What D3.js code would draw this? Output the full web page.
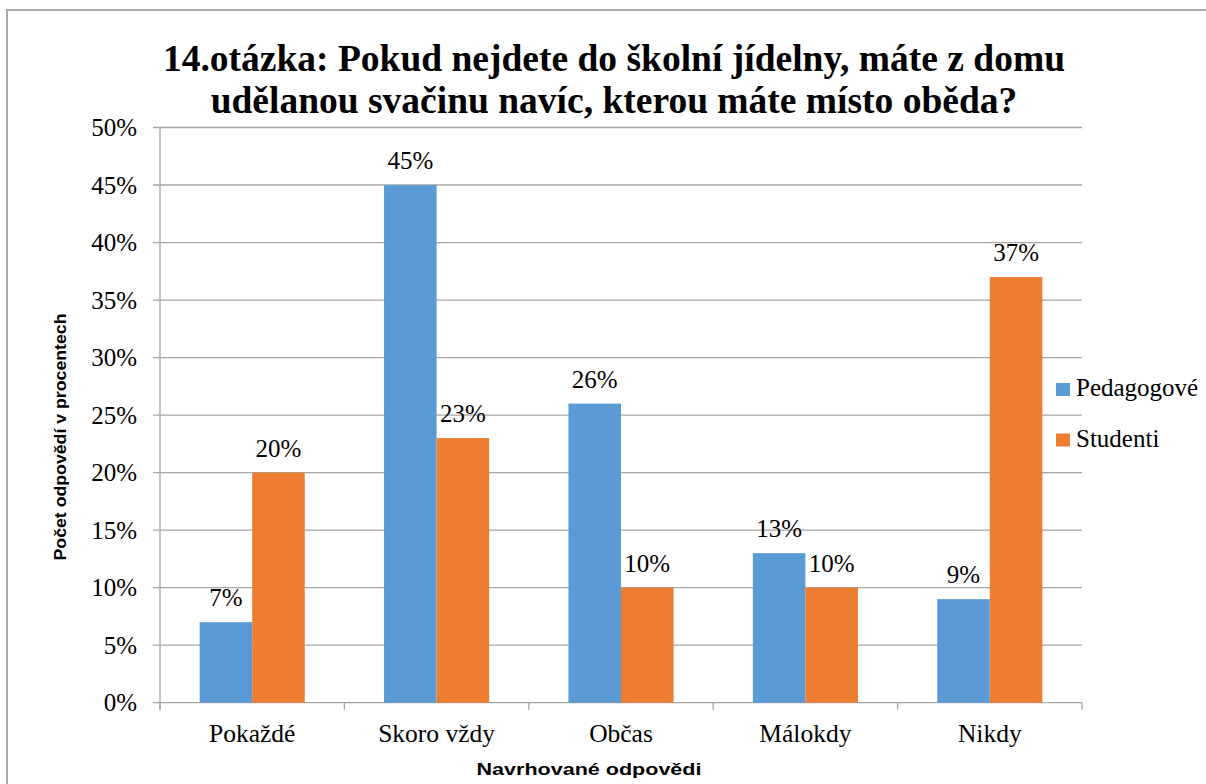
<!DOCTYPE html>
<html>
<head>
<meta charset="utf-8">
<script src="https://cdn.jsdelivr.net/npm/d3@7"></script>
<style>
  body { margin: 0; background: #fff; }
  svg { display: block; }
</style>
</head>
<body>
<div id="chart"></div>
<script>
const categories = ["Pokaždé", "Skoro vždy", "Občas", "Málokdy", "Nikdy"];
const seriesNames = ["Pedagogové", "Studenti"];
const pedagogove = [7, 45, 26, 13, 9];
const studenti = [20, 23, 10, 10, 37];
const yTicks = [0, 5, 10, 15, 20, 25, 30, 35, 40, 45, 50];
const colors = ["#5b9bd5", "#ed7d31"];
const titleLines = [
    "14.otázka: Pokud nejdete do školní jídelny, máte z domu",
    "udělanou svačinu navíc, kterou máte místo oběda?"
];

let width = 1206,
    height = 784,
    margin = {top: 127.5, right: 124, bottom: 81.3, left: 160};

const serif = "'Liberation Serif', 'Times New Roman', serif";

const svg = d3.select("#chart").append("svg")
    .attr("width", width)
    .attr("height", height);

// outer frame (top + left edge)
svg.append("path")
    .attr("d", "M7,784 L7,10 L1206,10")
    .attr("fill", "none")
    .attr("stroke", "#aaaaaa")
    .attr("stroke-width", 2);

let x0 = d3.scaleBand()
    .domain(categories)
    .range([margin.left, width - margin.right])
    .paddingInner(0.43)
    .paddingOuter(0.215);

let x1 = d3.scaleBand()
    .domain(seriesNames)
    .range([0, x0.bandwidth()]);

let y = d3.scaleLinear()
    .domain([0, 50])
    .range([height - margin.bottom, margin.top]);

const step = x0.step();

// gridlines
svg.append("g")
    .selectAll("line")
    .data(yTicks)
    .enter().append("line")
    .attr("x1", margin.left - 7)
    .attr("x2", width - margin.right)
    .attr("y1", d => y(d))
    .attr("y2", d => y(d))
    .attr("stroke", "#a6a6a6")
    .attr("stroke-width", 1.3);

// y axis line
svg.append("line")
    .attr("x1", margin.left).attr("x2", margin.left)
    .attr("y1", y(50)).attr("y2", y(0) + 7)
    .attr("stroke", "#a6a6a6")
    .attr("stroke-width", 1.3);

// category ticks on the x axis
svg.append("g")
    .selectAll("line")
    .data(d3.range(categories.length + 1))
    .enter().append("line")
    .attr("x1", i => margin.left + i * step)
    .attr("x2", i => margin.left + i * step)
    .attr("y1", y(0))
    .attr("y2", y(0) + 7)
    .attr("stroke", "#a6a6a6")
    .attr("stroke-width", 1.3);

// y tick labels
svg.append("g")
    .selectAll("text")
    .data(yTicks)
    .enter().append("text")
    .attr("x", 137)
    .attr("y", d => y(d) + 8.5)
    .attr("text-anchor", "end")
    .style("font-family", serif)
    .style("font-size", "25px")
    .text(d => d + "%");

// category labels
svg.append("g")
    .selectAll("text")
    .data(categories)
    .enter().append("text")
    .attr("x", d => x0(d) + x0.bandwidth() / 2)
    .attr("y", 742)
    .attr("text-anchor", "middle")
    .style("font-family", serif)
    .style("font-size", "25.5px")
    .text(d => d);

const rows = categories.map((c, i) => ({
    category: c,
    values: [
        {series: seriesNames[0], value: pedagogove[i], color: colors[0]},
        {series: seriesNames[1], value: studenti[i], color: colors[1]}
    ]
}));

const group = svg.append("g")
    .selectAll("g")
    .data(rows)
    .enter().append("g")
    .attr("transform", d => "translate(" + x0(d.category) + ",0)");

group.selectAll("rect")
    .data(d => d.values)
    .enter().append("rect")
    .attr("x", d => x1(d.series))
    .attr("width", x1.bandwidth())
    .attr("y", d => y(d.value))
    .attr("height", d => y(0) - y(d.value))
    .attr("fill", d => d.color);

group.selectAll("text")
    .data(d => d.values)
    .enter().append("text")
    .attr("x", d => x1(d.series) + x1.bandwidth() / 2)
    .attr("y", d => y(d.value) - 16)
    .attr("text-anchor", "middle")
    .style("font-family", serif)
    .style("font-size", "25px")
    .text(d => d.value + "%");

// title
svg.append("g")
    .selectAll("text")
    .data(titleLines)
    .enter().append("text")
    .attr("x", 614)
    .attr("y", (d, i) => 71 + i * 42)
    .attr("text-anchor", "middle")
    .style("font-family", serif)
    .style("font-weight", "bold")
    .style("font-size", "37.5px")
    .text(d => d);

// axis titles
svg.append("text")
    .attr("transform", "translate(66,437) rotate(-90)")
    .attr("text-anchor", "middle")
    .attr("textLength", 247)
    .attr("lengthAdjust", "spacingAndGlyphs")
    .style("font-family", "'Liberation Sans', Arial, sans-serif")
    .style("font-weight", "900")
    .style("font-size", "17px")
    .text("Počet odpovědí v procentech");

svg.append("text")
    .attr("x", 589)
    .attr("y", 775)
    .attr("text-anchor", "middle")
    .attr("textLength", 225)
    .attr("lengthAdjust", "spacingAndGlyphs")
    .style("font-family", "'Liberation Sans', Arial, sans-serif")
    .style("font-weight", "900")
    .style("font-size", "17px")
    .text("Navrhované odpovědi");

// legend
const legend = svg.append("g")
    .selectAll("g")
    .data(seriesNames)
    .enter().append("g")
    .attr("transform", (d, i) => "translate(1056," + (383 + i * 50.5) + ")");

legend.append("rect")
    .attr("width", 14)
    .attr("height", 13)
    .attr("fill", (d, i) => colors[i]);

legend.append("text")
    .attr("x", 20)
    .attr("y", 13)
    .style("font-family", serif)
    .style("font-size", "25px")
    .text(d => d);
</script>
</body>
</html>
